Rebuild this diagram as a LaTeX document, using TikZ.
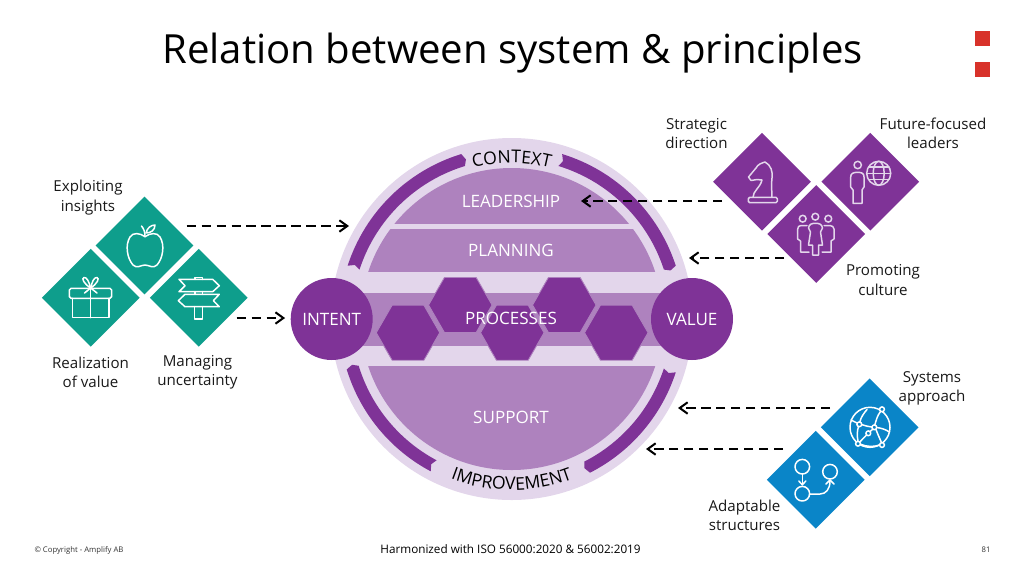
\documentclass[tikz,border=0pt]{standalone}
\usepackage{fontspec}
\setmainfont{Open Sans}
\usepackage{xcolor}
\usetikzlibrary{arrows.meta,positioning,shapes,calc,decorations.text}

\definecolor{ringlight}{HTML}{E3D6EB}
\definecolor{ringmid}{HTML}{AE82BE}
\definecolor{ringdark}{HTML}{7F3397}
\definecolor{tealtile}{HTML}{0E9E8C}
\definecolor{bluetile}{HTML}{0A85C8}
\definecolor{redmark}{HTML}{D8322A}

% one ring segment, angles run clockwise on the page
\newcommand{\ringarc}[2]{
    \fill[ringdark] ($(ctr)+(#1:172.5)$) arc[start angle=#1, end angle=#2, radius=172.5]
        -- ($(ctr)+(#2+1:166)$) -- ($(ctr)+(#2:160)$)
        arc[start angle=#2, end angle=#1, radius=160]
        -- ($(ctr)+(#1+1:166)$) -- cycle;
}

\begin{document}
\begin{tikzpicture}[
    x=0.02cm, y=-0.02cm,
    tile/.style={diamond, aspect=1, minimum width=1.96cm, minimum height=1.96cm, inner sep=0pt},
    tilecap/.style={align=center, font=\fontsize{8.6}{11}\selectfont, text=black!90},
    inlabel/.style={text=white, font=\fontsize{9.7}{12}\selectfont},
    hub/.style={circle, fill=ringdark, minimum size=1.64cm, inner sep=0pt, text=white, font=\fontsize{9.7}{12}\selectfont},
    hexa/.style={regular polygon, regular polygon sides=6, minimum size=1.27cm, inner sep=0pt, fill=ringdark, draw=ringmid, line width=0.5pt},
    link/.style={-{Straight Barb[length=4.5pt,width=6.5pt]}, line width=1.15pt, dash pattern=on 5.4pt off 3.1pt, black},
    icon/.style={draw=white, line width=0.85pt, line join=round, line cap=round},
    iconp/.style={draw=ringlight, line width=0.85pt, line join=round, line cap=round}
]
    \useasboundingbox (0,0) rectangle (1024,576);
    \coordinate (ctr) at (511.7,319);

    % Title and corner marks
    \node[font=\fontsize{22.85}{28}\selectfont, text=black] (title) at (512.5,53) {Relation between system \& principles};
    \fill[redmark] (975,31) rectangle (990,46);
    \fill[redmark] (975,62) rectangle (990,77);

    % Ring
    \fill[ringlight] (ctr) circle (181);
    \ringarc{198}{253}
    \ringarc{287}{342}
    \ringarc{18}{63}
    \ringarc{118}{163}
    \path[decorate, decoration={text along path, text align=center,
        text={|\fontsize{10}{12}\selectfont\color{black}|CONTEXT}}]
        ($(ctr)+(240:156)$) arc[start angle=240, end angle=300, radius=156];
    \path[decorate, decoration={text along path, text align=center,
        text={|\fontsize{10}{12}\selectfont\color{black}|IMPROVEMENT}}]
        ($(ctr)+(120:171)$) arc[start angle=120, end angle=60, radius=171];

    % Bands
    \begin{scope}
        \clip (ctr) circle (151);
        \fill[ringmid] (300,160) rectangle (720,224);
        \fill[ringmid] (300,229) rectangle (720,272);
        \fill[ringmid] (300,366) rectangle (720,480);
    \end{scope}
    \fill[ringmid] (350,293) rectangle (672,346);

    % Hexagons
    \node[hexa] (hexa) at (408,332.7) {};
    \node[hexa] (hexb) at (460.3,305) {};
    \node[hexa] (hexc) at (564.3,305) {};
    \node[hexa] (hexd) at (512.3,332.7) {};
    \node[hexa] (hexe) at (616.3,332.7) {};

    % Hubs and band labels
    \node[hub] (intent) at (331.7,319) {INTENT};
    \node[hub] (value) at (692,319) {VALUE};
    \node[inlabel] (leadership) at (511,201) {LEADERSHIP};
    \node[inlabel] (planning) at (511,250) {PLANNING};
    \node[inlabel] (processes) at (511,318) {PROCESSES};
    \node[inlabel] (support) at (511,417) {SUPPORT};

    % Tiles
    \node[tile, fill=tealtile] (exploit) at (144.5,245.5) {};
    \node[tile, fill=tealtile] (realize) at (90.8,297.7) {};
    \node[tile, fill=tealtile] (manage) at (198.7,297.7) {};
    \node[tile, fill=ringdark] (strategic) at (762,181.7) {};
    \node[tile, fill=ringdark] (future) at (870.3,181.7) {};
    \node[tile, fill=ringdark] (promote) at (816.3,234) {};
    \node[tile, fill=bluetile] (systems) at (869.7,427.3) {};
    \node[tile, fill=bluetile] (adapt) at (815.7,479.7) {};

    % Captions
    \node[tilecap] (exploitcap) at (88,197.5) {Exploiting\\insights};
    \node[tilecap] (realizecap) at (90.5,372) {Realization\\of value};
    \node[tilecap] (managecap) at (197.5,372.5) {Managing\\uncertainty};
    \node[tilecap] (strategiccap) at (696.5,133.5) {Strategic\\direction};
    \node[tilecap] (futurecap) at (933,133.5) {Future-focused\\leaders};
    \node[tilecap] (promotecap) at (883,280) {Promoting\\culture};
    \node[tilecap] (systemscap) at (932,388.5) {Systems\\approach};
    \node[tilecap] (adaptcap) at (744.5,515.5) {Adaptable\\structures};

    % Links
    \coordinate (exploitout) at (186.7,226);
    \coordinate (ringin) at (349,226);
    \coordinate (manageout) at (236.7,318);
    \coordinate (strategicout) at (722,201);
    \coordinate (leadin) at (581,201);
    \coordinate (promoteout) at (784,258);
    \coordinate (planin) at (689,258);
    \coordinate (systemsout) at (830,408);
    \coordinate (supin) at (678,408);
    \coordinate (adaptout) at (783,449);
    \coordinate (impin) at (646,449);
    \draw[link] (exploitout) -- (ringin);
    \draw[link, shorten >=3pt] (manageout) -- (intent.west |- manageout);
    \draw[link] (strategicout) -- (leadin);
    \draw[link] (promoteout) -- (planin);
    \draw[link] (systemsout) -- (supin);
    \draw[link] (adaptout) -- (impin);

    % Apple
    \draw[icon] (145,236.7) .. controls (150,233) and (157,232) .. (160,237)
        .. controls (165,245) and (163,258) .. (157,265)
        .. controls (153,269) and (149,265) .. (145,265)
        .. controls (141,265) and (137,269) .. (133,265)
        .. controls (127,258) and (125,245) .. (130,237)
        .. controls (133,232) and (140,233) .. (145,236.7);
    \draw[icon] (145,236.7) .. controls (145,232) and (144,229) .. (141.5,226);
    \draw[icon] (146,233) .. controls (147,228) and (151,225) .. (155,225)
        .. controls (155,230) and (151,233) .. (146,233);

    % Gift
    \draw[icon, rounded corners=1pt] (69.3,288.3) rectangle (111.7,298.3);
    \draw[icon] (72.3,298.3) -- (72.3,317.7) -- (109,317.7) -- (109,298.3);
    \draw[icon] (90.7,288.3) -- (90.7,317.7);
    \draw[icon] (90.7,288) .. controls (84,284) and (81,278) .. (84,277.5)
        .. controls (87,277) and (89,282) .. (90.7,288);
    \draw[icon] (90.7,288) .. controls (97,284) and (100,278) .. (97,277.5)
        .. controls (94,277) and (92,282) .. (90.7,288);
    \draw[icon] (84.5,293) -- (90.7,288) -- (97,293);

    % Signpost
    \draw[icon] (179,279.3) -- (212.7,279.3) -- (219.3,285.7) -- (212.7,291.7) -- (179,291.7) -- (185,285.7) -- cycle;
    \draw[icon] (185,294.3) -- (219.3,294.3) -- (213.3,300.7) -- (219.3,306.7) -- (185,306.7) -- (178.3,300.7) -- cycle;
    \draw[icon] (195,279.3) -- (195,277.3) -- (202.3,277.3) -- (202.3,279.3);
    \draw[icon] (195,291.7) -- (195,294.3) (202.3,291.7) -- (202.3,294.3);
    \draw[icon] (194.3,306.7) -- (194.3,319) -- (202.3,319) -- (202.3,306.7);

    % Knight
    \draw[iconp, rounded corners=0.8pt] (748.3,197.3) rectangle (777.3,202.7);
    \draw[iconp] (753,197.3) .. controls (753,191) and (760,188) .. (762,180) -- (757,179.5) -- (751,180.5) -- (748.5,177)
        -- (756,168) .. controls (758,164) and (762,163) .. (765,162)
        .. controls (771,165) and (773,172) .. (772,178) .. controls (771,185) and (772,192) .. (772,197.3);

    % Person and globe
    \draw[iconp] (857.7,165) circle (3.7);
    \draw[iconp] (853,203.3) -- (853,190) -- (850.7,187) -- (850.7,177)
        .. controls (850.7,173.5) and (853,172.3) .. (857.7,172.3)
        .. controls (862,172.3) and (864,173.5) .. (864,177)
        -- (864,187) -- (862,190) -- (862,203.3) -- cycle;
    \draw[iconp] (878.7,173.3) circle (12);
    \draw[iconp] (878.7,173.3) ellipse (5.5 and 12);
    \draw[iconp] (866.7,173.3) -- (890.7,173.3);
    \draw[iconp] (868.5,167) -- (889,167) (868.5,179.6) -- (889,179.6);

    % People
    \draw[iconp] (802.7,218.7) circle (3.4);
    \draw[iconp] (815.3,216.7) circle (3.4);
    \draw[iconp] (828.3,218.7) circle (3.4);
    \draw[iconp] (812.5,255) -- (812.5,245) -- (808.5,245) -- (810.5,232) -- (808.5,228)
        .. controls (809,224) and (812,223.3) .. (815.5,223.3)
        .. controls (819,223.3) and (822,224) .. (822.5,228)
        -- (820.5,232) -- (822.5,245) -- (818.5,245) -- (818.5,255) -- cycle;
    \draw[iconp] (807,225.5) -- (801,225.5) .. controls (799,225.5) and (797.7,227) .. (797.7,229)
        -- (797.7,239) -- (800.5,241) -- (800.5,252) -- (809,252);
    \draw[iconp] (824,225.5) -- (830,225.5) .. controls (832,225.5) and (834,227) .. (834,229)
        -- (834,239) -- (831,241) -- (831,252) -- (822,252);

    % Network globe
    \draw[icon] (870,427.3) circle (20);
    \foreach \nx/\ny in {882/409.3, 859.3/424.3, 874.3/427.3, 868.3/433.3, 858/443.7, 882/445}
        \draw[icon, fill=bluetile] (\nx,\ny) circle (2.4);
    \draw[icon] (880.5,411.5) .. controls (877,416) and (876,421) .. (874.8,425);
    \draw[icon] (876,429.5) .. controls (878,435) and (880,439) .. (881.5,442.6);
    \draw[icon] (861.7,424.6) .. controls (865,426) and (869,426.5) .. (871.9,427);
    \draw[icon] (859.8,422) .. controls (861,417) and (864,413) .. (867,409.5);
    \draw[icon] (857,423) -- (851,420);
    \draw[icon] (870,431.5) -- (872.8,429.2);
    \draw[icon] (866.6,435) -- (859.7,442);
    \draw[icon] (860.4,444.2) .. controls (867,447) and (874,447) .. (879.6,445);
    \draw[icon] (876.7,427.5) .. controls (881,428) and (886,429.5) .. (889.3,432);
    \draw[icon] (858,441.3) .. controls (857,436) and (857,430) .. (858.6,426.6);

    % Flow
    \draw[icon] (802.3,466.7) circle (7.3);
    \draw[icon] (802.3,493.7) circle (7.3);
    \draw[icon] (830,471.7) circle (7.3);
    \draw[icon] (802.3,474) -- (802.3,484.5);
    \draw[icon] (798.8,481) -- (802.3,484.8) -- (805.8,481);
    \draw[icon] (809.6,494) -- (820,494) .. controls (826,494) and (830,489) .. (830,481);
    \draw[icon] (826,484) -- (830,480) -- (834,484);

    % Footer
    \node[font=\fontsize{4.4}{5}\selectfont, text=black!80] (copyright) at (79,550) {© Copyright - Amplify AB};
    \node[font=\fontsize{6.67}{8}\selectfont, text=black] (standard) at (510.5,549) {Harmonized with ISO 56000:2020 \& 56002:2019};
    \node[font=\fontsize{4.4}{5}\selectfont, text=black!80] (pagenum) at (986,550) {81};
\end{tikzpicture}
\end{document}
